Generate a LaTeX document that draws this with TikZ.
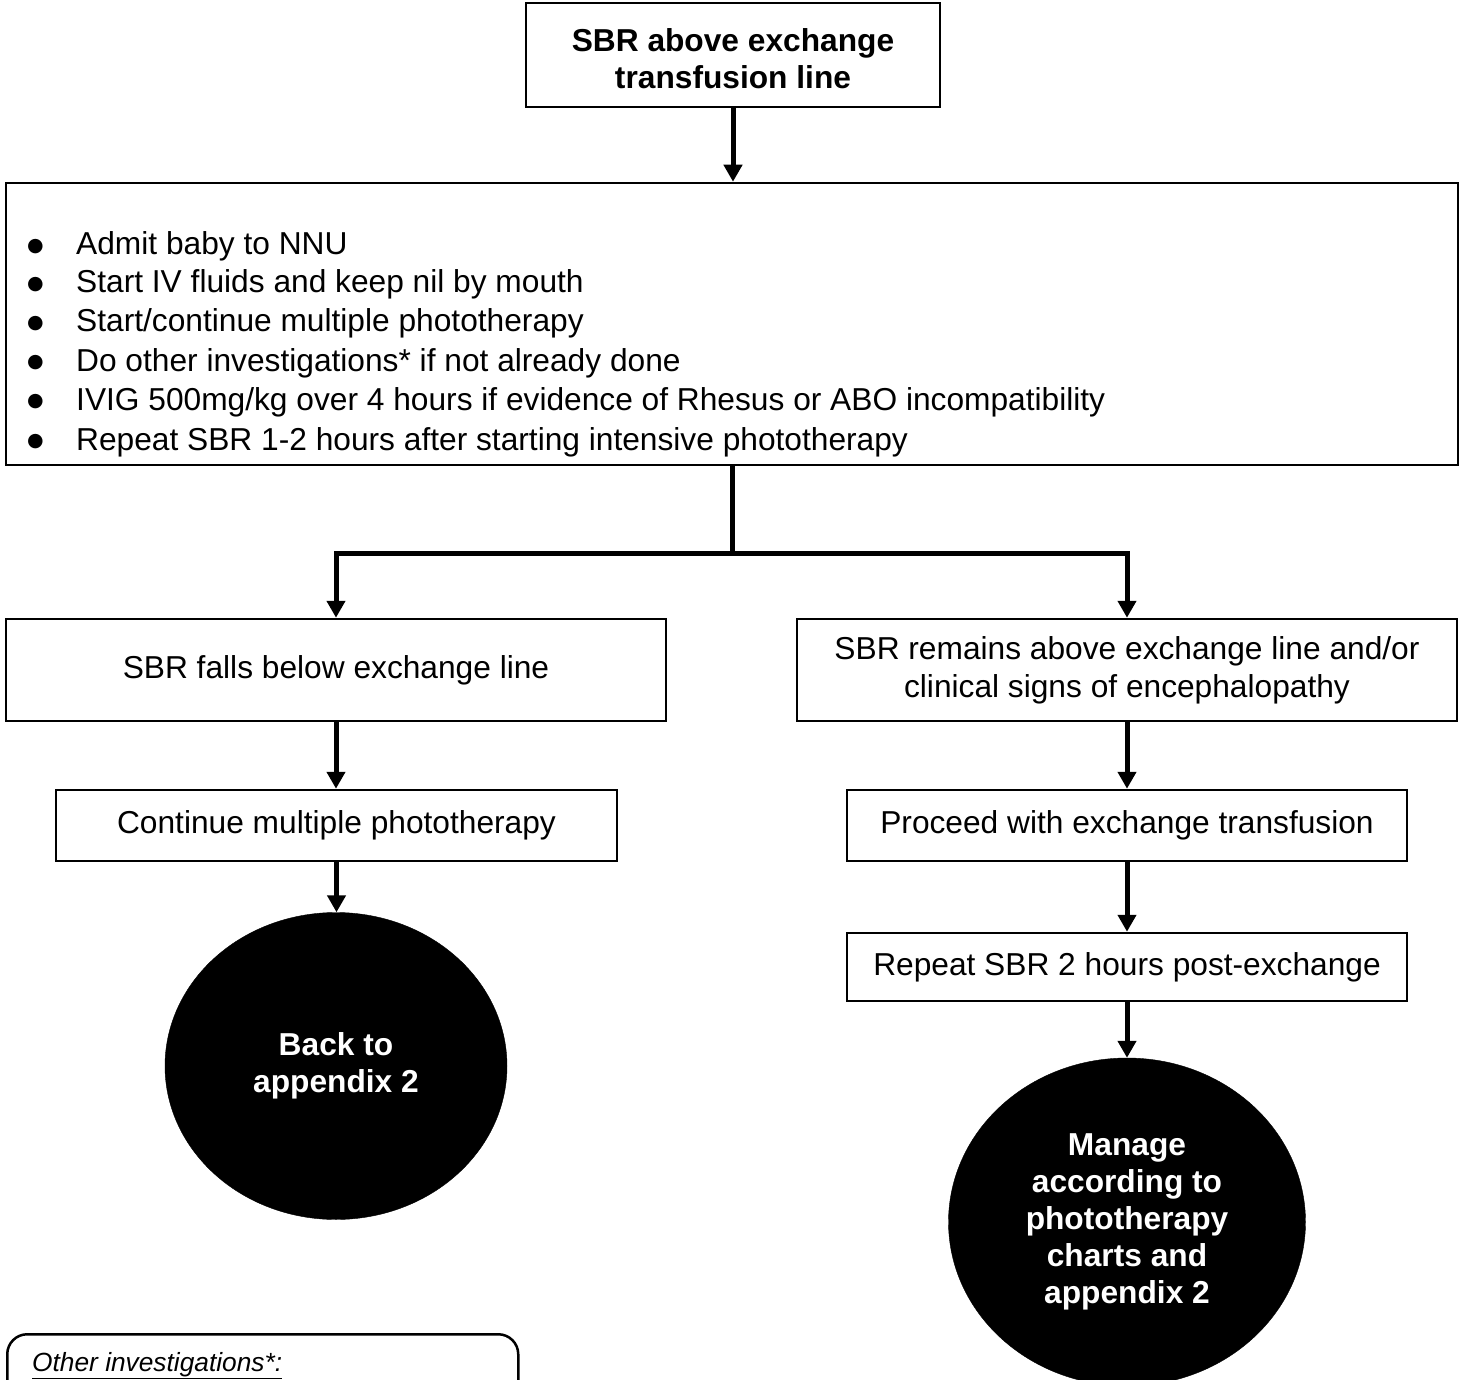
\documentclass[tikz,border=0pt]{standalone}
\usepackage{fontspec}
\setmainfont{Liberation Sans}
\newfontfamily\dejavufont{DejaVu Sans}
\usetikzlibrary{arrows.meta,shapes.geometric}
\newcommand{\bul}{\makebox[49pt][l]{\raisebox{3.5pt}{\dejavufont\fontsize{19}{20}\selectfont ●}}}
\begin{document}
\begin{tikzpicture}[x=1pt,y=-1pt,
  box/.style={draw, line width=2.5pt, inner sep=0pt, font=\fontsize{31.7}{38}\selectfont, align=center},
  lbl/.style={inner sep=0pt, align=center},
  arr/.style={line width=5pt, -{Triangle[width=18pt,length=17pt]}},
  link/.style={line width=5pt},
  oval/.style={ellipse, fill=black, draw=black, text=white, inner sep=0pt, font=\fontsize{31.7}{37}\selectfont\bfseries, align=center},
  item/.style={anchor=base west, inner sep=0pt, font=\fontsize{31.7}{38}\selectfont}]
\path[use as bounding box, clip] (0,0) rectangle (1465,1380);

% boxes
\node[box, minimum width=414pt, minimum height=104pt] (top) at (733,55) {};
\node[lbl, font=\fontsize{31.7}{37}\selectfont\bfseries] (toptxt) at (733,59) {SBR above exchange\\transfusion line};
\node[box, minimum width=1452pt, minimum height=282pt] (list) at (732,324) {};
\node[box, minimum width=660pt, minimum height=102pt] (left) at (336,670) {SBR falls below exchange line};
\node[box, minimum width=660pt, minimum height=102pt] (right) at (1127,670) {SBR remains above exchange line and/or\\clinical signs of encephalopathy};
\node[box, minimum width=561pt, minimum height=71pt] (cont) at (336.5,825.5) {Continue multiple phototherapy};
\node[box, minimum width=560pt, minimum height=71pt] (proc) at (1127,825.5) {Proceed with exchange transfusion};
\node[box, minimum width=560pt, minimum height=68pt] (rep) at (1127,967) {Repeat SBR 2 hours post-exchange};
\node[oval, minimum width=342pt, minimum height=307pt] (back) at (336,1066) {Back to\\appendix 2};
\node[oval, minimum width=357pt, minimum height=328pt] (manage) at (1127,1222) {Manage\\according to\\phototherapy\\charts and\\appendix 2};

% bullet list
\node[item] (b1) at (27,255) {\bul Admit baby to NNU};
\node[item] (b2) at (27,293) {\bul Start IV fluids and keep nil by mouth};
\node[item] (b3) at (27,332) {\bul Start/continue multiple phototherapy};
\node[item] (b4) at (27,371) {\bul Do other investigations* if not already done};
\node[item] (b5) at (27,410) {\bul IVIG 500mg/kg over 4 hours if evidence of Rhesus or ABO incompatibility};
\node[item] (b6) at (27,450) {\bul Repeat SBR 1-2 hours after starting intensive phototherapy};

% other investigations box
\node[draw, line width=2.5pt, rounded corners=20pt, minimum width=511pt, minimum height=300pt, anchor=north west, inner sep=0pt] (otherbox) at (6,1333) {};
\node[anchor=base west, inner sep=0pt, font=\fontsize{26.3}{30}\selectfont\itshape] (othertxt) at (32,1371) {\underline{Other investigations*:}};

% connectors
\draw[arr] (top.south) -- (top.south |- list.north);
\coordinate (j) at (732,553);
\draw[link] (list.south) -- (j);
\draw[arr] (j) -| (left.north);
\draw[arr] (j) -| (right.north);
\draw[arr] (left.south) -- (left.south |- cont.north);
\draw[arr] (right.south) -- (right.south |- proc.north);
\draw[arr] (cont.south) -- (cont.south |- back.north);
\draw[arr] (proc.south) -- (proc.south |- rep.north);
\draw[arr] (rep.south) -- (rep.south |- manage.north);
\end{tikzpicture}
\end{document}
